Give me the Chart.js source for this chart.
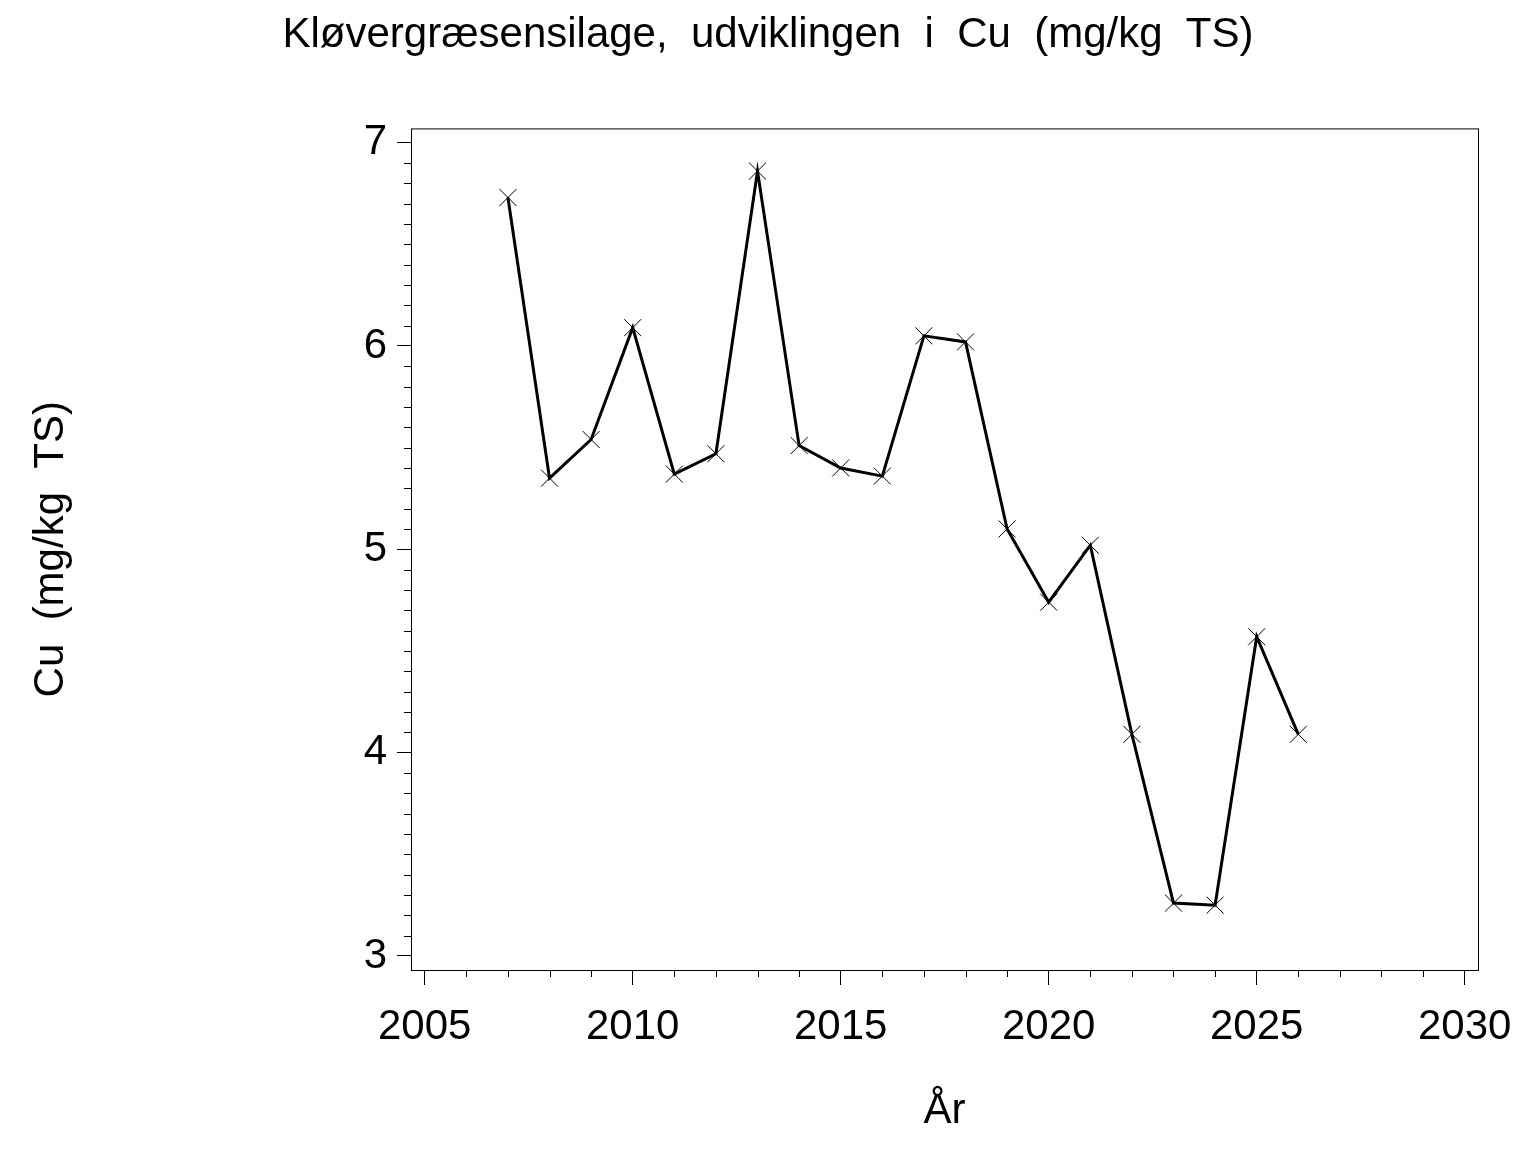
<!DOCTYPE html>
<html>
<head>
<meta charset="utf-8">
<script src="https://cdn.jsdelivr.net/npm/chart.js@4.4.1/dist/chart.umd.min.js"></script>
<style>
  html, body { margin: 0; padding: 0; background: #fff; }
  #wrap { width: 1536px; height: 1152px; }
</style>
</head>
<body>
<div id="wrap"><canvas id="chart" width="1536" height="1152"></canvas></div>
<script>
// Data
const years = [2007, 2008, 2009, 2010, 2011, 2012, 2013, 2014, 2015, 2016,
               2017, 2018, 2019, 2020, 2021, 2022, 2023, 2024, 2025, 2026];
const cuValues = [6.73, 5.35, 5.54, 6.09, 5.37, 5.47, 6.86, 5.51, 5.40, 5.36,
                  6.05, 6.02, 5.10, 4.74, 5.02, 4.09, 3.26, 3.25, 4.57, 4.09];
const xTickYears = [2005, 2010, 2015, 2020, 2025, 2030];
const yTickValues = [3, 4, 5, 6, 7];

const fontFamily = '"Liberation Sans", Arial, Helvetica, sans-serif';

// Frame round the plot area plus the small minor ticks
const framePlugin = {
    id: 'frame',
    afterDraw(chart) {
        const ctx = chart.ctx;
        const area = chart.chartArea;
        const xs = chart.scales.x;
        const ys = chart.scales.y;
        ctx.save();
        ctx.strokeStyle = '#000';
        ctx.lineWidth = 1;
        ctx.strokeRect(area.left + 0.5, area.top + 0.5, area.right - area.left, area.bottom - area.top);

        ctx.beginPath();
        // minor ticks on x, one per year
        for (let yr = xTickYears[0]; yr <= xTickYears[xTickYears.length - 1]; yr++) {
            if (yr % 5 === 0) continue;
            const px = Math.round(xs.getPixelForValue(yr)) + 0.5;
            ctx.moveTo(px, area.bottom);
            ctx.lineTo(px, area.bottom + 7);
        }
        // minor ticks on y, every 0.1
        for (let t = yTickValues[0] * 10; t <= yTickValues[yTickValues.length - 1] * 10; t++) {
            if (t % 10 === 0) continue;
            const py = Math.round(ys.getPixelForValue(t / 10)) + 0.5;
            ctx.moveTo(area.left - 7, py);
            ctx.lineTo(area.left, py);
        }
        ctx.stroke();
        ctx.restore();
    }
};

const ctx = document.getElementById('chart').getContext('2d');
new Chart(ctx, {
    type: 'line',
    data: {
        datasets: [{
            data: years.map((yr, i) => ({ x: yr, y: cuValues[i] })),
            borderColor: '#000',
            borderWidth: 3,
            tension: 0,
            fill: false,
            pointStyle: 'crossRot',
            pointRadius: 12,
            pointBorderWidth: 1,
            pointBorderColor: '#000',
            pointBackgroundColor: '#000'
        }]
    },
    options: {
        responsive: false,
        animation: false,
        devicePixelRatio: 1,
        layout: { padding: 0 },
        plugins: {
            legend: { display: false },
            tooltip: { enabled: false },
            title: {
                display: true,
                text: 'Kløvergræsensilage,  udviklingen  i  Cu  (mg/kg  TS)',
                color: '#000',
                font: { family: fontFamily, size: 42, weight: 'normal' },
                padding: { top: 10, bottom: 68 }
            }
        },
        scales: {
            x: {
                type: 'linear',
                min: 2004.67,
                max: 2030.32,
                afterBuildTicks: scale => {
                    scale.ticks = xTickYears.map(v => ({ value: v }));
                },
                afterFit: scale => { scale.height = 182; },
                border: { display: false },
                grid: {
                    drawOnChartArea: false,
                    tickLength: 15,
                    tickColor: '#000',
                    tickWidth: 1
                },
                ticks: {
                    color: '#000',
                    padding: 17,
                    maxRotation: 0,
                    autoSkip: false,
                    font: { family: fontFamily, size: 42 },
                    callback: v => String(v)
                },
                title: {
                    display: true,
                    text: 'År',
                    color: '#000',
                    font: { family: fontFamily, size: 42 },
                    padding: { top: 0, bottom: 15 }
                }
            },
            y: {
                type: 'linear',
                min: 2.931,
                max: 7.07,
                afterBuildTicks: scale => {
                    scale.ticks = yTickValues.map(v => ({ value: v }));
                },
                afterFit: scale => { scale.width = 411; },
                border: { display: false },
                grid: {
                    drawOnChartArea: false,
                    tickLength: 14,
                    tickColor: '#000',
                    tickWidth: 1
                },
                ticks: {
                    color: '#000',
                    padding: 10,
                    autoSkip: false,
                    font: { family: fontFamily, size: 42 },
                    callback: v => String(v)
                },
                title: {
                    display: true,
                    text: 'Cu  (mg/kg  TS)',
                    color: '#000',
                    font: { family: fontFamily, size: 42 },
                    padding: { top: 26, bottom: 0 }
                }
            },
            // empty right-hand axis, only to reserve the margin right of the frame
            yRight: {
                type: 'linear',
                position: 'right',
                min: 2.931,
                max: 7.07,
                afterFit: scale => { scale.width = 58; },
                border: { display: false },
                grid: { display: false, drawTicks: false },
                ticks: { display: false }
            }
        }
    },
    plugins: [framePlugin]
});
</script>
</body>
</html>
